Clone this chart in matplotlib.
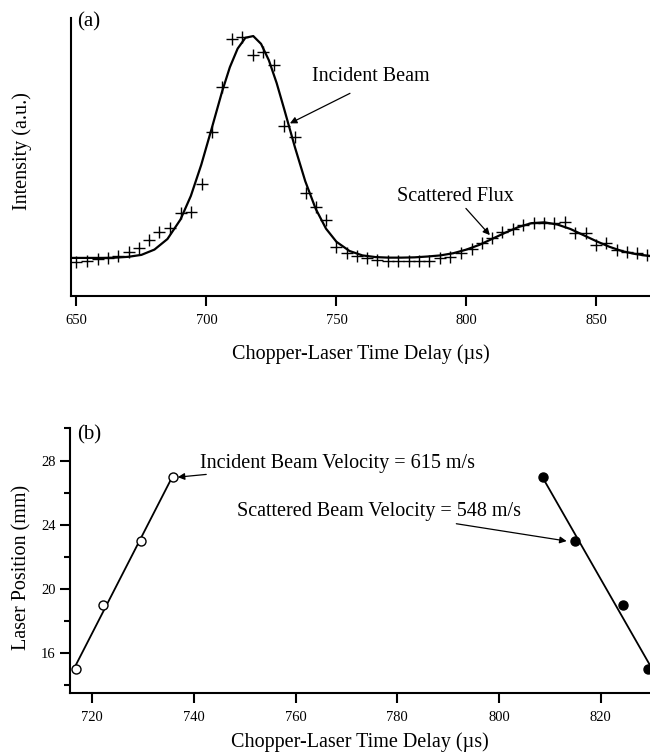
import matplotlib
matplotlib.use('Agg')
import matplotlib.pyplot as plt
import numpy as np

plt.rcParams['font.family'] = ['Liberation Serif', 'DejaVu Serif']

# (a) time-of-flight intensity profile: measured points and fitted curve
tof_delay = [649.8, 653.9, 658.1, 662.0, 666.1, 670.2, 674.2, 678.0, 681.9, 686.0,
             690.1, 694.0, 698.2, 702.0, 706.1, 710.0, 713.5, 717.8, 721.8, 726.1,
             729.9, 734.0, 738.1, 742.1, 745.8, 749.7, 753.9, 757.8, 761.7, 765.6,
             769.9, 773.8, 777.9, 781.8, 785.7, 789.8, 793.7, 797.9, 802.0, 805.8,
             809.9, 813.5, 817.8, 821.9, 826.0, 829.9, 833.8, 837.9, 841.7, 846.0,
             849.7, 853.7, 857.8, 861.6, 865.5, 869.3]
tof_signal = [0.123, 0.127, 0.132, 0.138, 0.144, 0.157, 0.174, 0.201, 0.231, 0.246,
              0.297, 0.301, 0.402, 0.591, 0.753, 0.923, 0.933, 0.867, 0.879, 0.831,
              0.612, 0.573, 0.372, 0.321, 0.273, 0.178, 0.155, 0.144, 0.137, 0.129,
              0.126, 0.126, 0.126, 0.126, 0.126, 0.136, 0.141, 0.156, 0.168, 0.190,
              0.210, 0.231, 0.240, 0.255, 0.264, 0.264, 0.264, 0.267, 0.228, 0.228,
              0.183, 0.192, 0.165, 0.159, 0.154, 0.147]

fit_delay = [648, 655, 660, 665, 670, 675, 680, 685, 690, 694, 698, 702, 706, 709,
             712, 715, 718, 721, 724, 727, 730, 734, 738, 742, 746, 750, 755, 760,
             765, 770, 775, 780, 785, 790, 795, 800, 805, 810, 815, 820, 825, 830,
             835, 840, 845, 850, 855, 860, 865, 871]
fit_signal = [0.137, 0.137, 0.137, 0.138, 0.141, 0.148, 0.167, 0.205, 0.275, 0.360,
              0.472, 0.602, 0.735, 0.823, 0.890, 0.929, 0.935, 0.907, 0.848, 0.766,
              0.669, 0.536, 0.413, 0.314, 0.242, 0.195, 0.162, 0.146, 0.140, 0.138,
              0.138, 0.139, 0.142, 0.146, 0.154, 0.167, 0.184, 0.206, 0.228, 0.248,
              0.262, 0.265, 0.257, 0.241, 0.219, 0.197, 0.177, 0.161, 0.151, 0.143]

# (b) laser position vs. arrival delay
incident_delay = [716.8, 722.0, 729.5, 735.8]
incident_pos = [15, 19, 23, 27]
scattered_delay = [808.7, 814.9, 824.4, 829.3]
scattered_pos = [27, 23, 19, 15]

xlabel = 'Chopper-Laser Time Delay (µs)'

fig = plt.figure(figsize=(6.5, 7.55), dpi=100)

def style_axes(ax):
    for side in ['top', 'right']:
        ax.spines[side].set_visible(False)
    for side in ['left', 'bottom']:
        ax.spines[side].set_linewidth(1.5)
    ax.tick_params(which='major', direction='out', length=7, width=1.5,
                   labelsize=10.5, pad=6)
    ax.tick_params(which='minor', direction='out', length=4.5, width=1.5)

# ---- panel (a) ----
ax1 = fig.add_axes([71/650, 1 - 296/755, 579/650, 278/755])
style_axes(ax1)
ax1.plot(fit_delay, fit_signal, color='black', lw=1.6)
ax1.plot(tof_delay, tof_signal, ls='none', marker='+', ms=8, mew=1.0, color='black')
ax1.set_xlim(647.9, 870.6)
ax1.set_ylim(0, 1.0)
ax1.set_xticks([650, 700, 750, 800, 850])
ax1.set_yticks([])
ax1.set_xlabel(xlabel, fontsize=14.5, va='center')
ax1.xaxis.set_label_coords(0.5, -0.21)
ax1.set_ylabel('Intensity (a.u.)', fontsize=14.5, va='center')
ax1.yaxis.set_label_coords(-(71 - 22) / 579, (296 - 151) / 278)
ax1.text(6 / 579, 1 - 4 / 278, '(a)', transform=ax1.transAxes,
         fontsize=15, ha='left', va='center')

arrow = dict(arrowstyle='-|>', color='black', lw=0.9, mutation_scale=10,
             shrinkA=0, shrinkB=0)
ax1.text(740.5, 0.789, 'Incident Beam', fontsize=14.5, ha='left', va='center')
ax1.annotate('', xy=(732.1, 0.621), xytext=(755.2, 0.729), arrowprops=arrow)
ax1.text(773.2, 0.357, 'Scattered Flux', fontsize=14.5, ha='left', va='center')
ax1.annotate('', xy=(809.0, 0.219), xytext=(799.8, 0.315), arrowprops=arrow)

# ---- panel (b) ----
ax2 = fig.add_axes([70/650, 1 - 692.7/755, 580/650, 264.7/755])
style_axes(ax2)

inc_fit = np.polyfit(incident_delay, incident_pos, 1)
sca_fit = np.polyfit(scattered_delay, scattered_pos, 1)
inc_x = np.array([incident_delay[0], incident_delay[-1]])
sca_x = np.array([scattered_delay[0], scattered_delay[-1] + 2])
ax2.plot(inc_x, np.polyval(inc_fit, inc_x), color='black', lw=1.3)
ax2.plot(sca_x, np.polyval(sca_fit, sca_x), color='black', lw=1.3)
ax2.plot(incident_delay, incident_pos, ls='none', marker='o', ms=6.5, mew=1.0,
         mfc='white', mec='black', clip_on=False)
ax2.plot(scattered_delay, scattered_pos, ls='none', marker='o', ms=6.5,
         color='black')

ax2.set_xlim(715.6, 829.7)
ax2.set_ylim(13.55, 30.03)
ax2.set_xticks([720, 740, 760, 780, 800, 820])
ax2.set_yticks([16, 20, 24, 28])
ax2.set_yticks([14, 18, 22, 26, 30], minor=True)
ax2.tick_params(axis='y', pad=3.5)
ax2.set_xlabel(xlabel, fontsize=14.5, va='center')
ax2.xaxis.set_label_coords(0.5, -(742 - 692.7) / 264.7)
ax2.set_ylabel('Laser Position (mm)', fontsize=14.5, va='center')
ax2.yaxis.set_label_coords(-(70 - 22) / 580, (692.7 - 567) / 264.7)
ax2.text(7 / 580, 1 - 7 / 264.7, '(b)', transform=ax2.transAxes,
         fontsize=15, ha='left', va='center')

ax2.text(741.2, 27.84, 'Incident Beam Velocity = 615 m/s', fontsize=14.5,
         ha='left', va='center')
ax2.annotate('', xy=(736.8, 26.97), xytext=(742.4, 27.14), arrowprops=arrow)
ax2.text(748.4, 24.84, 'Scattered Beam Velocity = 548 m/s', fontsize=14.5,
         ha='left', va='center')
ax2.annotate('', xy=(813.3, 22.99), xytext=(791.6, 24.07), arrowprops=arrow)

fig.savefig('out.png', dpi=100, facecolor='white')
